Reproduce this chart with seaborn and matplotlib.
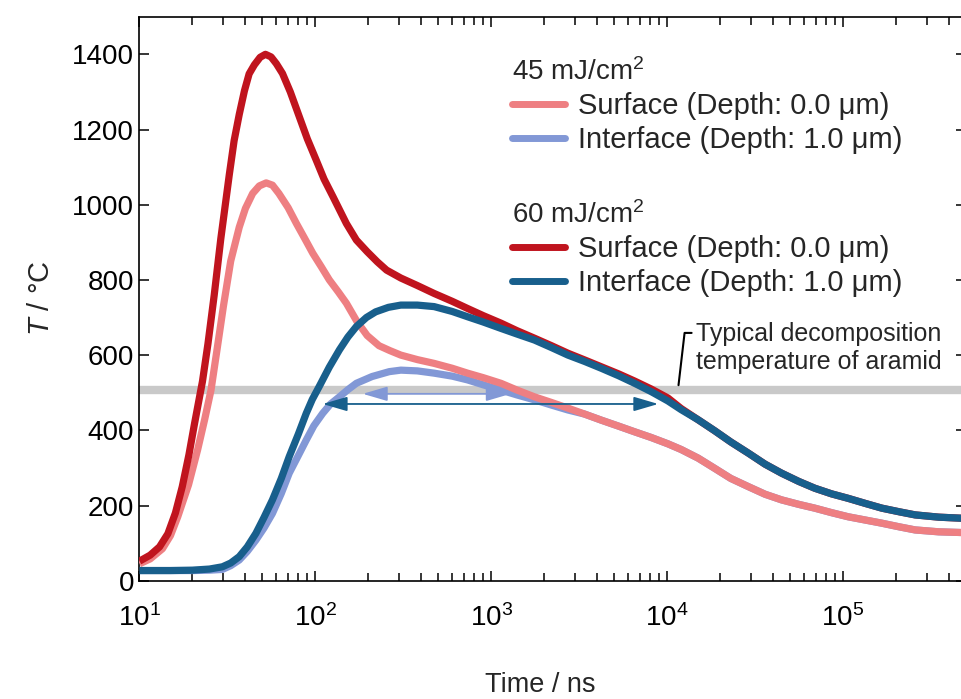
import numpy as np
import pandas as pd
import matplotlib
matplotlib.use("Agg")
import matplotlib.pyplot as plt
import seaborn as sns

# ---------------- data ----------------
t_s60 = [10, 11.5, 13, 14.5, 16, 17.5, 19.1, 20.5, 22.8, 24.5, 26.6, 29, 32.4, 34.5, 36.9, 39.5,
         42, 45, 48.5, 52, 56, 60, 65, 72, 81, 90, 101, 112, 126, 150, 171, 197, 225, 254,
         306, 380, 473, 600, 733, 900, 1135, 1400, 1760, 2200, 2728, 3400, 4220, 5300, 6530,
         8100, 10100, 12000, 15000, 18600, 23000, 29000, 36000, 44700, 56000, 69000, 86000,
         107000, 135000, 166000, 210000, 257000, 350000, 480000]
T_s60 = [52, 68, 90, 125, 180, 250, 335, 415, 530, 630, 760, 910, 1080, 1170, 1240, 1303,
         1348, 1372, 1392, 1400, 1393, 1375, 1349, 1300, 1234, 1175, 1119, 1068, 1021, 950, 906, 875, 848, 826,
         805, 785, 764, 743, 724, 705, 685, 665, 645, 625, 605, 587, 569, 550, 531,
         510, 486, 458, 428, 399, 369, 339, 310, 286, 264, 246, 231,
         219, 205, 193, 183, 175, 169, 166]

t_i60 = [10, 15, 20, 25, 29.6, 33, 36.9, 41, 45.9, 51, 57, 64, 71, 80, 88.7, 96, 105, 120, 137,
         153, 171, 195, 220, 260, 306, 380, 473, 600, 733, 900, 1135, 1400, 1760, 2200, 2728,
         3400, 4220, 5300, 6530, 8100, 10100, 12000, 15000, 18600, 23000, 29000, 36000, 44700,
         56000, 69000, 86000, 107000, 135000, 166000, 210000, 257000, 350000, 480000]
T_i60 = [27, 27, 28, 31, 37, 47, 64, 90, 126, 168, 215, 272, 330, 390, 445, 482, 516, 568, 614,
         648, 676, 700, 715, 727, 733, 733, 729, 716, 702, 688, 671, 656, 640, 620, 600,
         583, 565, 545, 525, 503, 478, 455, 428, 399, 369, 339, 310, 286,
         264, 246, 231, 219, 205, 193, 183, 175, 169, 166]

t_s45 = [10, 11.5, 13.5, 15, 16.5, 19, 21.4, 23.5, 25.5, 27.5, 30, 33, 36.9, 40, 44, 48, 52.5,
         57, 62, 70, 78, 87, 96.6, 108, 120, 135, 150, 172, 197, 230, 265, 306, 380, 473, 600,
         733, 900, 1135, 1400, 1760, 2200, 2728, 3400, 4220, 5300, 6530, 8100, 10100, 12000,
         15000, 18600, 23000, 29000, 36000, 44700, 56000, 69000, 86000, 107000, 135000,
         166000, 210000, 257000, 350000, 480000]
T_s45 = [45, 58, 85, 120, 170, 255, 348, 430, 507, 610, 730, 850, 940, 990, 1030, 1050, 1058,
         1052, 1030, 992, 950, 910, 871, 835, 800, 768, 738, 690, 652, 625, 612, 600, 588, 578, 565,
         552, 540, 525, 507, 489, 474, 459, 443, 427, 411, 396, 381, 364, 349,
         326, 299, 272, 250, 230, 215, 203, 193, 181, 170, 161,
         153, 143, 135, 130, 128]

t_i45 = [10, 20, 25, 29.6, 33, 36.9, 41, 45.9, 51, 57, 64, 71, 80, 88.7, 98, 110, 122, 137,
         153, 171, 210, 263, 306, 380, 473, 600, 733, 900, 1135, 1400, 1760, 2200, 2728, 3400,
         4220, 5300, 6530, 8100, 10100, 12000, 15000, 18600, 23000, 29000, 36000, 44700,
         56000, 69000, 86000, 107000, 135000, 166000, 210000, 257000, 350000, 480000]
T_i45 = [27, 27, 28, 30, 40, 55, 78, 108, 140, 179, 232, 286, 333, 374, 412, 445, 470, 489,
         508, 525, 543, 556, 560, 558, 552, 544, 534, 521, 507, 494, 481, 467, 454, 443,
         427, 411, 396, 381, 364, 349, 326, 299, 272, 250, 230, 215,
         203, 193, 181, 170, 161, 153, 143, 135, 130, 128]

series_names = ["i45", "s45", "s60", "i60"]
series_labels = {"s45": "Surface (Depth: 0.0 μm)", "i45": "Interface (Depth: 1.0 μm)",
                 "s60": "Surface (Depth: 0.0 μm)", "i60": "Interface (Depth: 1.0 μm)"}
colors = {"s45": "#ee7f82", "i45": "#8298d6", "s60": "#c0141e", "i60": "#185f8c"}

decomp_T = 507
arrow60 = ([110, 8900], 470)
arrow45 = ([186, 1290], 497)
bracket_t = [11600, 12560, 13770]
bracket_T = [520, 659, 659]

xticks = [10, 100, 1000, 10000, 100000]
yticks = [0, 200, 400, 600, 800, 1000, 1200, 1400]

# ---------------- style ----------------
sns.set_style("ticks")
plt.rcParams["font.family"] = ["Liberation Sans", "DejaVu Sans"]
plt.rcParams["mathtext.fontset"] = "custom"
plt.rcParams["mathtext.rm"] = "Liberation Sans"
plt.rcParams["mathtext.it"] = "Liberation Sans:italic"
plt.rcParams["mathtext.default"] = "regular"

frames = []
for key, tt, TT in [("i45", t_i45, T_i45), ("s45", t_s45, T_s45),
                    ("s60", t_s60, T_s60), ("i60", t_i60, T_i60)]:
    frames.append(pd.DataFrame({"t": tt, "T": TT, "series": key}))
df = pd.concat(frames, ignore_index=True)

fig = plt.figure(figsize=(9.62, 6.99), dpi=100)
ax = fig.add_axes([139.5 / 962, (699 - 580.7) / 699, (966 - 139.5) / 962, 564 / 699])

ax.axhline(decomp_T, color="#c9c9c9", lw=6, zorder=1)

for i, key in enumerate(series_names):
    sns.lineplot(data=df[df["series"] == key], x="t", y="T", color=colors[key],
                 lw=5.2, ax=ax, estimator=None, sort=True, legend=False, zorder=2 + i,
                 solid_capstyle="butt", solid_joinstyle="round")

ax.set_xscale("log")
ax.set_xlim(10, 5e5)
ax.set_ylim(0, 1500)
ax.set_xticks(xticks)
ax.set_yticks(yticks)

# arrows
for (xs, yv), key in [(arrow60, "i60"), (arrow45, "i45")]:
    ax.annotate("", xy=(xs[0], yv), xytext=(xs[1], yv),
                arrowprops=dict(arrowstyle="<|-|>,head_length=0.75,head_width=0.22",
                                color=colors[key], lw=1.3, shrinkA=0, shrinkB=0,
                                mutation_scale=20), zorder=10)

# decomposition annotation
ax.plot(bracket_t, bracket_T, color="black", lw=1.5, zorder=10)
ax.text(14600, 619, "Typical decomposition\ntemperature of aramid", fontsize=18,
        ha="left", va="center", linespacing=1.25, zorder=10)

# legends
h45 = [plt.Line2D([], [], color=colors["s45"], lw=5), plt.Line2D([], [], color=colors["i45"], lw=5)]
h60 = [plt.Line2D([], [], color=colors["s60"], lw=5), plt.Line2D([], [], color=colors["i60"], lw=5)]
common = dict(loc="upper left", frameon=False, fontsize=21, title_fontsize=20,
              handlelength=1.8, handletextpad=0.45, labelspacing=0.2, borderpad=0,
              borderaxespad=0, alignment="left")
leg1 = ax.legend(h45, [series_labels["s45"], series_labels["i45"]], title="45 mJ/cm$^2$",
                 bbox_to_anchor=(0.451, 0.926), **common)
ax.add_artist(leg1)
leg2 = ax.legend(h60, [series_labels["s60"], series_labels["i60"]], title="60 mJ/cm$^2$",
                 bbox_to_anchor=(0.451, 0.672), **common)

# axes cosmetics
ax.tick_params(axis="both", which="both", direction="in", top=True, right=True,
               labelsize=20, width=1.1, colors="black")
ax.tick_params(axis="both", which="major", length=7)
ax.tick_params(axis="both", which="minor", length=6)
ax.tick_params(axis="x", which="major", pad=17)
ax.tick_params(axis="y", which="major", pad=4)
for s in ax.spines.values():
    s.set_linewidth(1.2)
    s.set_color("black")
ax.set_xlabel("Time / ns", fontsize=19.5)
ax.set_ylabel(r"$\mathit{T}$ / °C", fontsize=21)
ax.xaxis.set_label_coords(0.4846, -0.162)
ax.yaxis.set_label_coords(-0.102, 0.5)

fig.savefig("out.png", dpi=100)
